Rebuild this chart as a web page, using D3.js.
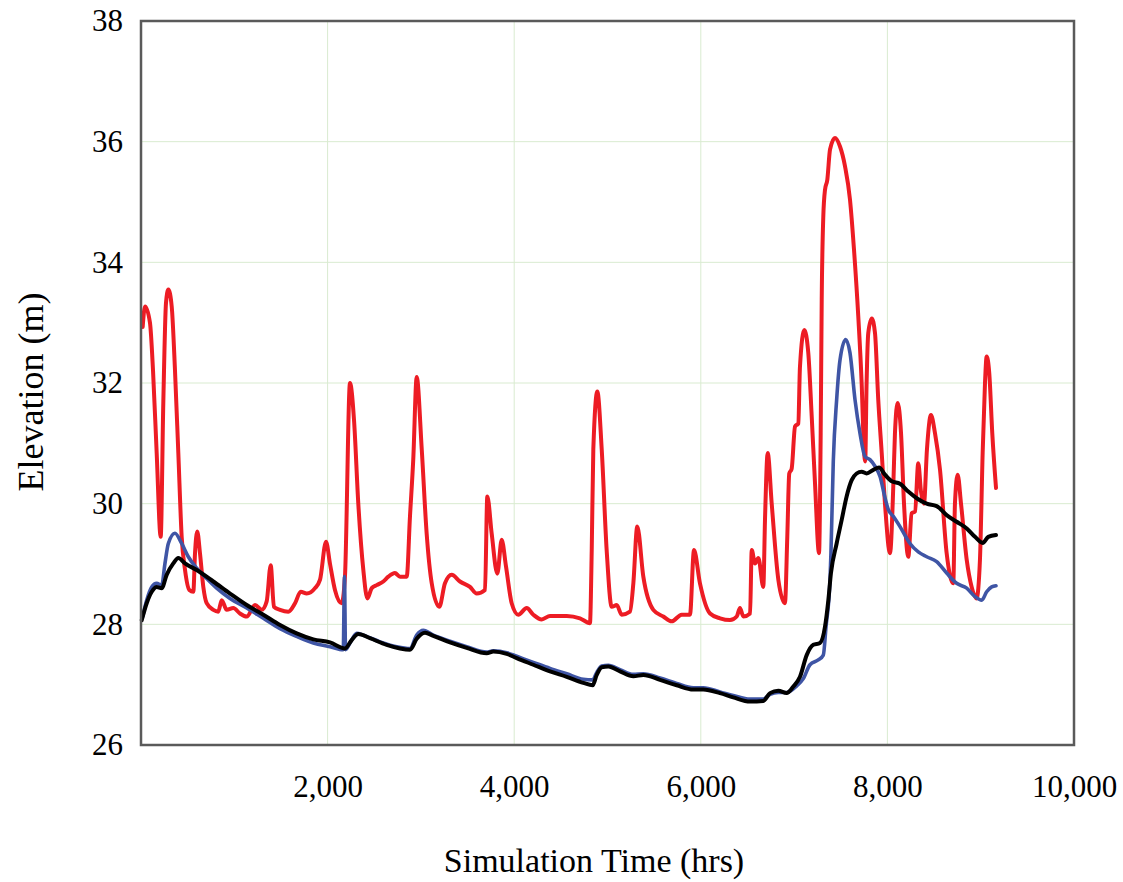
<!DOCTYPE html>
<html>
<head>
<meta charset="utf-8">
<script src="https://cdn.jsdelivr.net/npm/d3@7/dist/d3.min.js"></script>
<style>
  body { margin: 0; background: #fff; }
  text { font-family: "Liberation Serif", "Times New Roman", serif; fill: #000; }
</style>
</head>
<body>
<div id="container"></div>
<script>
const width = 1123;
const height = 882;
const margin = {top: 21, right: 49, bottom: 137, left: 141};
const innerW = width - margin.left - margin.right;
const innerH = height - margin.top - margin.bottom;

// ---------------- data ----------------
const xTicks = [2000, 4000, 6000, 8000, 10000];
const yTicks = [26, 28, 30, 32, 34, 36, 38];

const redTime = [18,43,96,129,168,211,239,268,293,329,364,400,436,472,518,561,579,603,632,668,704,775,828,865,919,989,1061,1133,1222,1294,1347,1390,1425,1490,1579,1651,1712,1776,1865,1919,1983,2026,2079,2151,2186,2240,2283,2329,2383,2426,2473,2526,2597,2651,2722,2776,2848,2883,2918,2955,3009,3062,3116,3197,3258,3330,3419,3526,3598,3687,3712,3759,3819,3866,3912,3973,4044,4134,4205,4295,4384,4563,4705,4812,4831,4848,4891,4938,4991,5045,5099,5152,5241,5277,5319,5384,5491,5598,5688,5795,5884,5927,5991,6099,6206,6313,6385,6420,6456,6528,6546,6581,6617,6670,6688,6717,6760,6831,6902,6927,6948,6974,7010,7045,7063,7109,7152,7189,7224,7267,7285,7296,7313,7331,7356,7385,7438,7492,7546,7599,7642,7688,7724,7749,7762,7777,7795,7832,7867,7902,7939,7974,8028,8063,8081,8110,8146,8178,8224,8260,8296,8331,8360,8392,8424,8467,8510,8564,8635,8706,8724,8753,8789,8850,8903,8956,8992,9021,9046,9064,9092,9124,9164];
const redElev = [32.93,33.27,33.0,32.2,30.84,29.45,31.67,33.33,33.55,33.27,32.22,30.84,29.45,28.9,28.57,28.54,29.18,29.54,29.18,28.62,28.35,28.24,28.21,28.4,28.24,28.27,28.18,28.13,28.32,28.24,28.38,28.98,28.29,28.24,28.21,28.35,28.54,28.51,28.6,28.74,29.37,29.0,28.57,28.35,28.79,32.0,31.39,30.0,28.9,28.43,28.6,28.65,28.71,28.79,28.85,28.79,28.79,29.79,30.73,32.1,30.9,29.5,28.68,28.29,28.68,28.82,28.71,28.62,28.51,28.57,30.12,29.5,28.84,29.4,28.96,28.35,28.16,28.27,28.16,28.08,28.14,28.14,28.1,28.02,29.23,30.9,31.86,30.9,29.23,28.29,28.32,28.16,28.21,28.68,29.62,28.79,28.24,28.13,28.05,28.16,28.16,29.23,28.68,28.18,28.1,28.07,28.13,28.27,28.13,28.18,29.23,29.01,29.1,28.62,29.73,30.84,30.0,28.74,28.35,29.45,30.5,30.58,31.28,31.33,32.27,32.88,32.5,31.44,30.34,29.18,31.17,33.38,34.76,35.2,35.37,35.87,36.06,35.92,35.59,35.04,34.21,33.1,32.0,30.89,30.7,32.0,32.83,33.07,32.83,31.72,30.84,30.0,29.18,30.28,31.17,31.67,31.17,30.0,29.12,29.84,29.87,30.67,30.2,30.0,30.9,31.47,31.17,30.56,29.18,28.68,30.0,30.48,30.0,29.07,28.62,28.43,29.07,30.84,32.0,32.44,32.16,31.17,30.26];

const blueTime = [18,61,115,168,222,257,293,364,436,507,597,704,811,954,1133,1311,1490,1669,1847,2026,2168,2181,2192,2240,2312,2383,2562,2741,2883,2955,3026,3133,3312,3491,3705,3777,3920,4027,4205,4384,4563,4741,4841,4884,4938,5009,5134,5277,5384,5563,5742,5920,6027,6206,6348,6528,6670,6742,6831,6920,7028,7099,7170,7259,7313,7342,7385,7395,7420,7456,7492,7553,7599,7653,7706,7760,7813,7867,7921,7974,8010,8063,8135,8242,8331,8421,8528,8635,8742,8850,8939,9011,9064,9118,9164];
const blueElev = [28.13,28.4,28.62,28.68,28.65,29.01,29.34,29.51,29.34,29.12,28.93,28.76,28.6,28.43,28.27,28.1,27.93,27.8,27.69,27.63,27.58,28.79,27.58,27.69,27.85,27.82,27.71,27.63,27.6,27.82,27.9,27.82,27.72,27.63,27.54,27.56,27.53,27.47,27.37,27.27,27.18,27.09,27.08,27.2,27.31,27.32,27.25,27.17,27.18,27.11,27.02,26.95,26.95,26.88,26.82,26.76,26.76,26.84,26.87,26.87,26.98,27.1,27.33,27.41,27.49,27.96,28.74,29.18,30.7,31.72,32.38,32.72,32.5,31.72,31.17,30.78,30.73,30.62,30.45,30.1,29.9,29.79,29.62,29.34,29.2,29.12,29.04,28.85,28.68,28.6,28.46,28.4,28.54,28.62,28.64];

const blackTime = [8,61,115,168,222,275,346,400,472,597,775,954,1133,1311,1490,1669,1847,2026,2186,2258,2329,2454,2633,2776,2883,2955,3044,3133,3312,3491,3705,3777,3920,4027,4205,4384,4563,4741,4841,4884,4938,5009,5134,5277,5384,5563,5742,5920,6027,6206,6348,6528,6670,6742,6831,6920,6992,7063,7135,7206,7277,7331,7367,7395,7456,7510,7563,7617,7670,7724,7777,7849,7910,7974,8046,8135,8224,8314,8421,8528,8635,8742,8850,8939,9021,9081,9164];
const blackElev = [28.07,28.35,28.54,28.62,28.6,28.82,29.01,29.1,29.01,28.9,28.71,28.51,28.32,28.16,27.99,27.85,27.75,27.7,27.6,27.74,27.84,27.77,27.66,27.6,27.58,27.76,27.86,27.81,27.7,27.61,27.52,27.55,27.51,27.44,27.33,27.22,27.13,27.03,26.99,27.16,27.29,27.3,27.22,27.14,27.16,27.08,26.99,26.92,26.92,26.86,26.79,26.72,26.73,26.86,26.9,26.86,26.97,27.13,27.49,27.66,27.69,27.96,28.4,28.85,29.34,29.73,30.12,30.39,30.5,30.53,30.5,30.56,30.6,30.48,30.37,30.33,30.2,30.09,30.0,29.96,29.81,29.7,29.59,29.45,29.35,29.45,29.48];

const series = [
  {id: "red", color: "#ed1c24", width: 4, time: redTime, elev: redElev},
  {id: "blue", color: "#3f55a5", width: 3.6, time: blueTime, elev: blueElev},
  {id: "black", color: "#000000", width: 4, time: blackTime, elev: blackElev}
];

// ---------------- drawing ----------------
const svg = d3.select("div#container").append("svg")
    .attr("width", width)
    .attr("height", height);

const g = svg.append("g")
    .attr("transform", "translate(" + margin.left + "," + margin.top + ")");

const xScale = d3.scaleLinear().domain([0, 10000]).range([0, innerW]);
const yScale = d3.scaleLinear().domain([26, 38]).range([innerH, 0]);

// grid
g.selectAll(".vgrid")
    .data(xTicks.filter(d => d < 10000))
    .enter().append("line")
    .attr("x1", d => xScale(d)).attr("x2", d => xScale(d))
    .attr("y1", 0).attr("y2", innerH)
    .style("stroke", "#d9ebd0").style("stroke-width", 1);

g.selectAll(".hgrid")
    .data(yTicks.filter(d => d > 26 && d < 38))
    .enter().append("line")
    .attr("x1", 0).attr("x2", innerW)
    .attr("y1", d => yScale(d)).attr("y2", d => yScale(d))
    .style("stroke", "#d9ebd0").style("stroke-width", 1);

// lines
const line = d3.line()
    .x(d => xScale(d[0]))
    .y(d => yScale(d[1]))
    .curve(d3.curveMonotoneX);

g.selectAll(".serie")
    .data(series)
    .enter().append("path")
    .attr("d", s => line(d3.zip(s.time, s.elev)))
    .style("fill", "none")
    .style("stroke", s => s.color)
    .style("stroke-width", s => s.width)
    .style("stroke-linejoin", "round")
    .style("stroke-linecap", "round");

// frame
g.append("rect")
    .attr("x", 0).attr("y", 0)
    .attr("width", innerW).attr("height", innerH)
    .style("fill", "none")
    .style("stroke", "#5a5a5a")
    .style("stroke-width", 2.5);

// axes
const xaxis = d3.axisBottom(xScale)
    .tickValues(xTicks)
    .tickSize(0)
    .tickPadding(30)
    .tickFormat(d3.format(","));

const yaxis = d3.axisLeft(yScale)
    .tickValues(yTicks)
    .tickSize(0)
    .tickPadding(18)
    .tickFormat(d3.format("d"));

const gx = g.append("g")
    .attr("transform", "translate(0," + innerH + ")")
    .call(xaxis);
const gy = g.append("g").call(yaxis);

[gx, gy].forEach(a => {
  a.select(".domain").remove();
  a.selectAll("text")
    .style("font-family", "'Liberation Serif', 'Times New Roman', serif")
    .style("font-size", "31px")
    .style("fill", "#000");
});

// titles
svg.append("text")
    .attr("x", 594)
    .attr("y", 872)
    .attr("text-anchor", "middle")
    .style("font-size", "34px")
    .text("Simulation Time (hrs)");

svg.append("text")
    .attr("transform", "translate(43,392) rotate(-90)")
    .attr("text-anchor", "middle")
    .style("font-size", "36px")
    .text("Elevation (m)");
</script>
</body>
</html>
